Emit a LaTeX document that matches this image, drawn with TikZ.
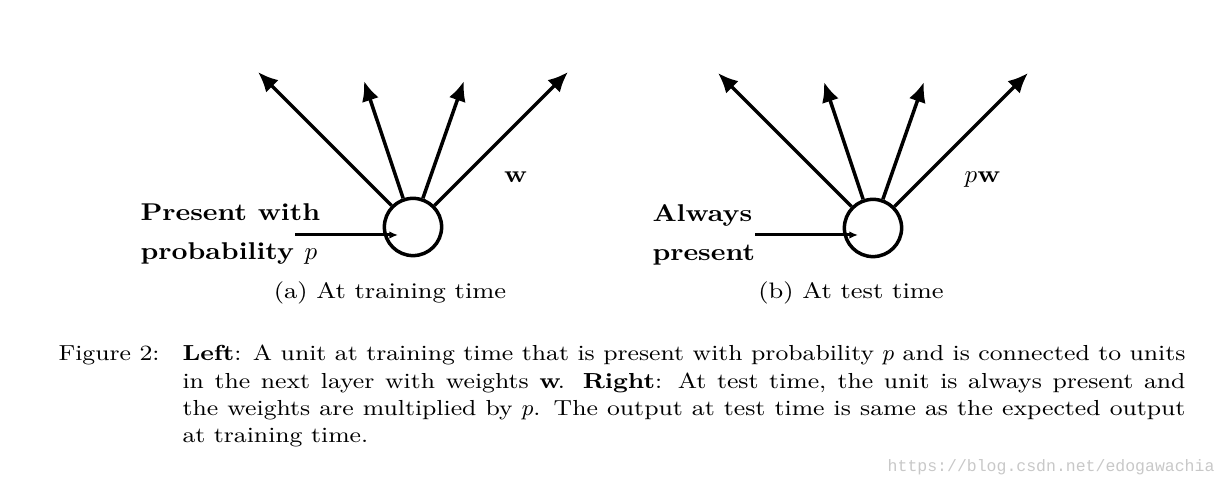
\documentclass[tikz,border=0pt]{standalone}
\usepackage{fontspec}
\setmainfont{Latin Modern Roman}[FakeStretch=1.15]
\setmonofont{Liberation Mono}
\usetikzlibrary{arrows.meta,positioning}
\definecolor{Mark}{HTML}{C8C8C8}

\begin{document}
\begin{tikzpicture}[x=0.4pt,y=-0.4pt,
    unit/.style={draw,circle,line width=1.4pt,minimum size=22.9pt,inner sep=0pt},
    outarr/.style={-{Latex[length=8pt,width=7pt]},line width=1.4pt},
    inarr/.style={-{Latex[length=3.5pt,width=3pt]},line width=1.2pt},
    lbl/.style={font=\fontsize{9.7}{15.6}\selectfont\bfseries,align=left,anchor=west,inner sep=0pt},
    sub/.style={font=\fontsize{8.95}{11}\selectfont,anchor=base,inner sep=0pt},
    captext/.style={font=\fontsize{8.7}{10.92}\selectfont,anchor=base west,inner sep=0pt}]
    \useasboundingbox (0,0) rectangle (1229,490);
    % the two units
    \node[unit] (ua) at (413,227) {};
    \node[unit] (ub) at (873,228) {};
    \foreach \u in {ua,ub}{
      \path (\u) +(-155,-155) coordinate (\u-1) +(-49,-146) coordinate (\u-2)
                 +(51,-146) coordinate (\u-3) +(155,-155) coordinate (\u-4);
      \draw[outarr] (\u.135) -- (\u-1);
      \draw[outarr] (\u.109) -- (\u-2);
      \draw[outarr] (\u.71) -- (\u-3);
      \draw[outarr] (\u.45) -- (\u-4);
    }
    % inputs
    \coordinate (ina) at (295,235); \coordinate (ta) at (398,235);
    \coordinate (inb) at (755,235); \coordinate (tb) at (858,235);
    \draw[inarr] (ina) -- (ta);
    \draw[inarr] (inb) -- (tb);
    \node[lbl] (pa) at (140,234.5) {Present with\\probability $p$};
    \node[lbl] (pb) at (652,234.5) {Always\\present};
    \node[anchor=base,inner sep=0pt,font=\fontsize{9.6}{12}\selectfont] (wa) at (514,183) {$\mathbf{w}$};
    \node[anchor=base,inner sep=0pt,font=\fontsize{9.6}{12}\selectfont] (wb) at (981,183) {$p\mathbf{w}$};
    \node[sub] (sa) at (390,299) {(a) At training time};
    \node[sub] (sb) at (851,299) {(b) At test time};
    % caption
    \node[captext] (fig) at (58,361) {Figure 2:};
    \node[captext,text width=401.2pt,align=justify] (capt) at (182,361) {\hyphenpenalty=10000
      \textbf{Left}: A unit at training time that is present with probability $p$ and is connected to units\linebreak
      in the next layer with weights $\mathbf{w}$. \textbf{Right}: At test time, the unit is always present and\linebreak
      the weights are multiplied by $p$. The output at test time is same as the expected output\linebreak
      at training time.};
    \node[anchor=base east,inner sep=0pt,text=Mark,font=\fontsize{6.6}{8}\ttfamily] (mark) at (1215,472) {https://blog.csdn.net/edogawachia};
  \end{tikzpicture}
\end{document}
